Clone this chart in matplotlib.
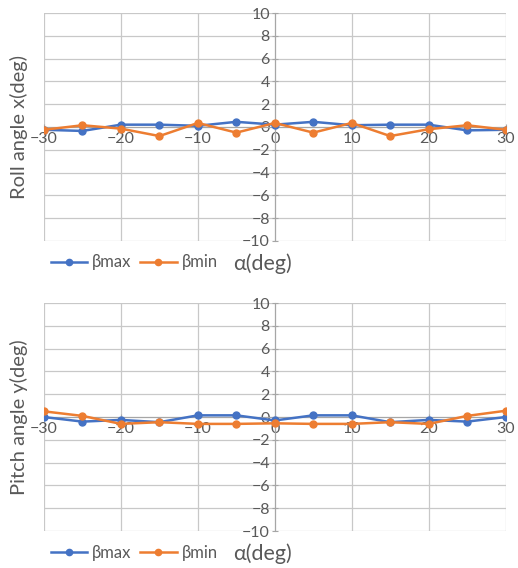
import matplotlib.pyplot as plt

plt.rcParams['font.family'] = ['Lato', 'DejaVu Sans']

# data
alpha = [-30, -25, -20, -15, -10, -5, 0, 5, 10, 15, 20, 25, 30]

roll_bmax = [-0.25, -0.35, 0.2, 0.2, 0.1, 0.45, 0.2, 0.45, 0.15, 0.2, 0.2, -0.3, -0.25]
roll_bmin = [-0.25, 0.15, -0.15, -0.8, 0.35, -0.5, 0.35, -0.5, 0.35, -0.8, -0.2, 0.15, -0.25]

pitch_bmax = [0.0, -0.4, -0.25, -0.45, 0.15, 0.15, -0.3, 0.15, 0.15, -0.45, -0.25, -0.4, 0.0]
pitch_bmin = [0.5, 0.1, -0.6, -0.45, -0.6, -0.6, -0.55, -0.6, -0.6, -0.45, -0.6, 0.1, 0.55]

blue = '#4472C4'
orange = '#ED7D31'
grey = '#595959'
gridc = '#c8c8c8'

fig = plt.figure(figsize=(5.18, 5.68), dpi=100)

def draw(ax, y1, y2, ylabel):
    ax.plot(alpha, y1, color=blue, lw=1.8, marker='o', ms=5, label='βmax', zorder=3)
    ax.plot(alpha, y2, color=orange, lw=1.8, marker='o', ms=5, label='βmin', zorder=3)
    ax.set_xlim(-30, 30)
    ax.set_ylim(-10, 10)
    ax.set_xticks(range(-30, 31, 10))
    ax.set_yticks(range(-10, 11, 2))
    ax.grid(True, color=gridc, lw=0.9)
    for s in ['top', 'right']:
        ax.spines[s].set_visible(False)
    ax.spines['left'].set_position(('data', 0))
    ax.spines['bottom'].set_position(('data', 0))
    ax.spines['left'].set_color('#a6a6a6')
    ax.spines['bottom'].set_color('#a6a6a6')
    ax.tick_params(direction='inout', length=5, color='#a6a6a6', labelsize=11.5, labelcolor=grey, pad=1)
    ax.set_ylabel(ylabel, fontsize=14.5, color=grey)
    ax.yaxis.set_label_coords(-0.035, 0.5)
    ax.text(0.473, -0.1, 'α(deg)', transform=ax.transAxes, ha='center', va='center', fontsize=15.5, color=grey)
    ax.legend(loc='center left', bbox_to_anchor=(0.0, -0.095), ncol=2, frameon=False,
              fontsize=12, labelcolor=grey, handlelength=2.2, handletextpad=0.3,
              columnspacing=0.5, borderaxespad=0, markerscale=0.9)

ax1 = fig.add_axes([0.085, 0.576, 0.891, 0.401])
draw(ax1, roll_bmax, roll_bmin, 'Roll angle x(deg)')

ax2 = fig.add_axes([0.085, 0.065, 0.891, 0.4015])
draw(ax2, pitch_bmax, pitch_bmin, 'Pitch angle y(deg)')

fig.savefig('out.png', dpi=100)
